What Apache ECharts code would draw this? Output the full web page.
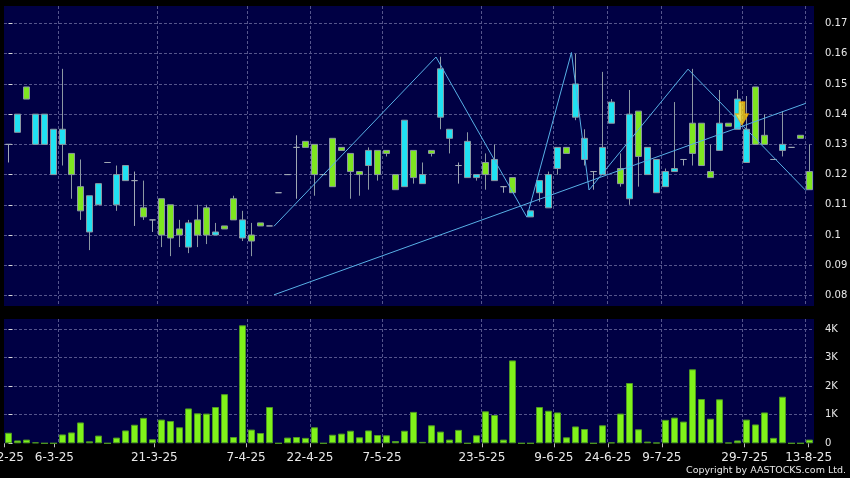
<!DOCTYPE html>
<html><head><meta charset="utf-8">
<script src="https://cdn.jsdelivr.net/npm/echarts@6/dist/echarts.min.js"></script>
<style>html,body{margin:0;padding:0;background:#000;}#c{width:850px;height:478px;}</style>
</head><body><div id="c"></div>
<script>
// ---- data (trading-day slots 0..89) ----
const categories = Array.from({length: 90}, (_, i) => 'D' + i);
const opens  = [.130,.140,.145,.140,.140,.135,.135,.120,.108,.113,.117,.124,.120,.123,.118,.106,.105,.100,.099,.100,.104,.100,.100,.101,.102,.105,.105,.098,.103,.103,
                .114,.120,.129,.129,.120,.120,.116,.128,.121,.120,.128,.120,.127,.115,.138,.119,.120,.127,.155,.135,.123,.131,.120,.120,.125,.116,.114,null,.108,.118,
                .120,.129,.127,.150,.132,.121,.129,.144,.117,.140,.126,.129,.125,.121,.122,.125,.127,.123,.119,.137,.136,.145,.135,.130,.130,.125,.130,.129,.132,.115];
const closes = [.130,.134,.149,.130,.130,.120,.130,.127,.116,.101,.110,.124,.110,.118,.118,.109,.105,.112,.110,.102,.096,.105,.109,.100,.103,.112,.099,.100,.104,.103,
                .114,.120,.129,.131,.130,.120,.132,.129,.127,.121,.123,.128,.128,.120,.116,.128,.117,.128,.139,.132,.123,.119,.119,.124,.118,.116,.119,null,.106,.114,
                .109,.122,.129,.139,.125,.121,.120,.137,.122,.112,.141,.120,.114,.116,.121,.125,.137,.137,.121,.128,.137,.135,.124,.149,.133,.125,.128,.129,.133,.121];
const lows   = [.124,.134,.145,.130,.130,.120,.123,.112,.105,.095,.110,.124,.108,.118,.103,.105,.101,.096,.093,.096,.094,.096,.097,.100,.102,.105,.098,.093,.103,.103,
                .114,.120,.112,.129,.113,.120,.116,.128,.112,.113,.115,.118,.126,.115,.116,.117,.117,.126,.135,.127,.117,.119,.118,.115,.118,.114,.114,null,.106,.111,
                .109,.120,.127,.138,.123,.115,.120,.137,.116,.110,.116,.120,.114,.116,.121,.123,.123,.123,.119,.128,.136,.135,.124,.130,.130,.125,.126,.129,.132,.115];
const highs  = [.130,.140,.149,.140,.140,.135,.155,.127,.125,.113,.117,.124,.123,.123,.121,.118,.105,.112,.110,.105,.105,.110,.110,.104,.103,.113,.108,.104,.104,.103,
                .114,.120,.133,.131,.130,.120,.132,.129,.127,.121,.129,.128,.128,.120,.138,.128,.124,.128,.159,.135,.124,.134,.120,.127,.130,.116,.119,null,.108,.118,
                .121,.129,.129,.160,.135,.121,.154,.145,.127,.148,.141,.129,.125,.122,.144,.125,.155,.137,.130,.148,.137,.148,.146,.149,.140,.125,.141,.129,.133,.130];
// volume in thousands
const volumes = [0.37,0.10,0.13,0.035,0,0,0.31,0.38,0.73,0.07,0.27,0,0.20,0.45,0.65,0.89,0.14,0.83,0.78,0.56,1.22,1.05,1.04,1.27,1.72,0.22,4.13,0.48,0.36,1.27,
                 0,0.20,0.22,0.19,0.56,0,0.30,0.34,0.44,0.21,0.45,0.29,0.28,0.08,0.44,1.10,0.05,0.63,0.41,0.13,0.47,0,0.28,1.12,0.99,0.13,2.90,0,0,1.27,
                 1.14,1.08,0.21,0.59,0.50,0,0.63,0.03,1.04,2.11,0.49,0.06,0.02,0.82,0.90,0.76,2.59,1.55,0.86,1.54,0.02,0.10,0.83,0.66,1.08,0.19,1.63,0,0,0.13];
// trend lines (slot position, price)
const zigzagLine = [[29.5,0.1029],[47.5,0.1589],[57.6,0.1059],[62.55,0.1604],[64.5,0.1149],[75.5,0.1549],[88.6,0.1147]];
const trendLine  = [[29.5,0.0802],[88.6,0.1436]];
const arrowPoint = [[81.5,0.1364]];
// axis ticks
const firstLabel = '20-2-25';
const tickLabels = ['6-3-25','21-3-25','7-4-25','22-4-25','7-5-25','23-5-25','9-6-25','24-6-25','9-7-25','29-7-25','13-8-25'];
const tickPos    = [5.1,16.2,26.4,33.5,41.5,52.6,60.6,66.6,72.6,81.8,88.9];
const gridPos    = [5.5,16.5,26.5,33.5,41.5,52.5,60.5,66.5,72.5,81.5,88.5];
const priceTicks = [0.08,0.09,0.1,0.11,0.12,0.13,0.14,0.15,0.16,0.17];
const volTicks   = [1,2,3,4];
const volLabels  = [0,1,2,3,4];

const candleData = opens.map((o, i) => o === null ? '-' : [o, closes[i], lows[i], highs[i]]);

const FONT = 'DejaVu Sans';
const TXT = '#e8e8e8';
const gridLine = {show: true, lineStyle: {color: '#55558c', type: [3, 2], width: 1}};

const chart = echarts.init(document.getElementById('c'), null, {renderer: 'canvas'});
chart.setOption({
  animation: false,
  backgroundColor: '#000',
  grid: [
    {left: 4, right: 36, top: 6, height: 300, show: true, backgroundColor: '#000044', borderWidth: 0,
      containLabel: false, outerBoundsMode: 'none'},
    {left: 4, right: 36, top: 319, height: 124.3, show: true, backgroundColor: '#000044', borderWidth: 0,
      containLabel: false, outerBoundsMode: 'none'}
  ],
  xAxis: [
    {type: 'category', gridIndex: 0, data: categories, show: false},
    {type: 'category', gridIndex: 1, data: categories, show: false},
    {type: 'value', gridIndex: 0, min: -0.5, max: 89.5, position: 'bottom',
      axisLine: {show: false}, axisLabel: {show: false},
      axisTick: {show: false, customValues: gridPos}, splitLine: gridLine},
    {type: 'value', gridIndex: 1, min: -0.5, max: 89.5, position: 'bottom',
      axisLine: {show: false},
      axisTick: {show: false, customValues: gridPos}, splitLine: gridLine,
      axisLabel: {show: true, customValues: [-0.5].concat(tickPos), showMinLabel: true,
        color: TXT, fontSize: 12, fontFamily: FONT, margin: 9,
        formatter: v => {
          if (v < 0) return '{cut|' + firstLabel + '}';
          const i = tickPos.findIndex(p => Math.abs(p - v) < 1e-6);
          return i >= 0 ? tickLabels[i] : '';
        },
        rich: {cut: {padding: [0, 7, 0, 0], color: TXT, fontSize: 12, fontFamily: FONT}}
      }},
    {type: 'value', gridIndex: 1, min: -0.5, max: 89.5, position: 'bottom',
      axisLine: {show: false}, axisLabel: {show: false}, splitLine: {show: false},
      axisTick: {show: true, length: 4, customValues: [-0.5].concat(tickPos), lineStyle: {color: '#bbbbbb'}}}
  ],
  yAxis: [
    {type: 'value', gridIndex: 0, position: 'right', offset: 4, min: 0.0765, max: 0.1758,
      axisLine: {show: false},
      axisTick: {show: true, length: 4, customValues: priceTicks, lineStyle: {color: '#dddddd'}},
      axisLabel: {customValues: priceTicks, color: TXT, fontSize: 10, fontFamily: FONT, margin: 7},
      splitLine: gridLine},
    {type: 'value', gridIndex: 1, position: 'right', offset: 4, min: 0, max: 4.35,
      axisLine: {show: false},
      axisTick: {show: true, length: 4, customValues: volTicks, lineStyle: {color: '#dddddd'}},
      axisLabel: {customValues: volLabels, color: TXT, fontSize: 10, fontFamily: FONT, margin: 7,
        formatter: v => v === 0 ? '0' : v + 'K'},
      splitLine: gridLine},
    {type: 'value', gridIndex: 1, position: 'right', offset: 4, min: 0, max: 4.35,
      axisLine: {show: false}, axisLabel: {show: false}, splitLine: {show: false},
      axisTick: {show: true, length: 4, customValues: [0], lineStyle: {color: '#dddddd'}}}
  ],
  series: [
    {type: 'candlestick', xAxisIndex: 0, yAxisIndex: 0, data: candleData, barWidth: 6, z: 3,
      itemStyle: {color: '#7ee620', color0: '#20e2f2', borderColor: '#8c98a2', borderColor0: '#8c98a2',
        borderColorDoji: '#a0a8b4', borderWidth: 1}},
    {type: 'bar', xAxisIndex: 1, yAxisIndex: 1, data: volumes, barWidth: 7,
      itemStyle: {color: '#80f21a', borderColor: '#4f9a22', borderWidth: 1}},
    {type: 'line', xAxisIndex: 2, yAxisIndex: 0, data: zigzagLine, symbol: 'none', z: 5, silent: true,
      lineStyle: {color: '#58b0e6', width: 1}},
    {type: 'line', xAxisIndex: 2, yAxisIndex: 0, data: trendLine, symbol: 'none', z: 5, silent: true,
      lineStyle: {color: '#58b0e6', width: 1}},
    {type: 'scatter', xAxisIndex: 2, yAxisIndex: 0, data: arrowPoint, z: 6, silent: true,
      symbol: 'path://M3.5,0 L9.5,0 L9.5,12 L13,12 L6.5,23 L0,12 L3.5,12 Z',
      symbolSize: [13, 23], symbolOffset: [0, '-50%'],
      itemStyle: {color: new echarts.graphic.LinearGradient(0, 0, 1, 0, [{offset: 0, color: '#fff690'}, {offset: 0.5, color: '#ffe020'}, {offset: 1, color: '#f8c000'}]),
        borderColor: '#f0a800', borderWidth: 1}}
  ],
  graphic: [
    {type: 'text', x: 846, y: 471, silent: true,
      style: {text: 'Copyright by AASTOCKS.com Ltd.', fill: TXT, font: '9.5px "DejaVu Sans"', align: 'right', verticalAlign: 'middle'}}
  ]
});
</script></body></html>
